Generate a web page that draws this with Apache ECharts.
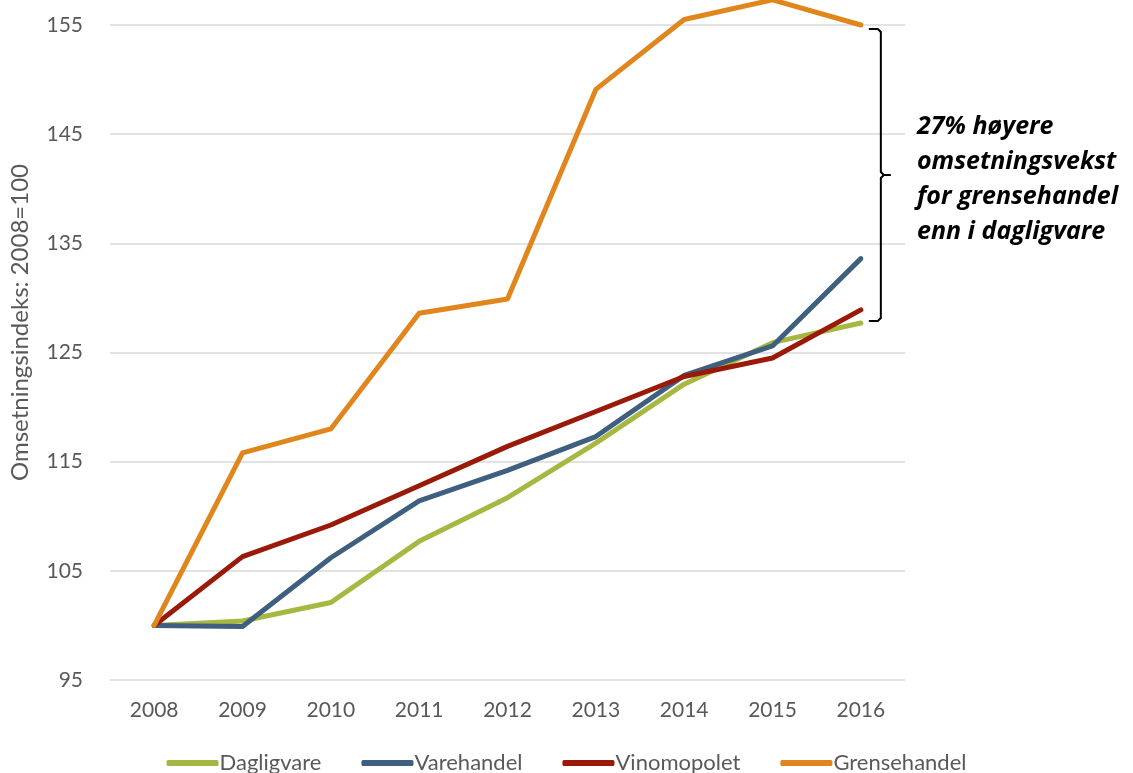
<!DOCTYPE html>
<html>
<head>
<meta charset="utf-8">
<script src="https://cdn.jsdelivr.net/npm/echarts@6/dist/echarts.min.js"></script>
<style>
  html, body { margin: 0; padding: 0; background: #fff; }
  #chart { width: 1133px; height: 773px; }
</style>
</head>
<body>
<div id="chart"></div>
<script>
// data
const years = ['2008', '2009', '2010', '2011', '2012', '2013', '2014', '2015', '2016'];
const dagligvare = [100, 100.4, 102.1, 107.7, 111.7, 116.7, 122.1, 125.9, 127.7];
const varehandel = [100, 99.9, 106.2, 111.4, 114.2, 117.3, 122.9, 125.6, 133.6];
const vinmonopolet = [100, 106.3, 109.2, 112.8, 116.4, 119.6, 122.8, 124.5, 128.9];
const grensehandel = [100, 115.8, 118.0, 128.6, 129.9, 149.1, 155.5, 157.3, 155.0];
const noteLines = ['27% høyere', 'omsetningsvekst', 'for grensehandel', 'enn i dagligvare'];

const font = 'Lato, "Open Sans", sans-serif';
const grey = '#595959';

const chart = echarts.init(document.getElementById('chart'));

function line(name, data, color) {
  return {
    name: name,
    type: 'line',
    data: data,
    symbol: 'none',
    clip: false,
    lineStyle: { width: 5, color: color, cap: 'round', join: 'round' },
    itemStyle: { color: color }
  };
}

const option = {
  backgroundColor: '#fff',
  animation: false,
  grid: { left: 109, right: 228, top: 25, bottom: 93 },
  xAxis: {
    type: 'category',
    data: years,
    boundaryGap: true,
    axisLine: { show: false },
    axisTick: { show: false },
    axisLabel: { color: grey, fontSize: 21, fontFamily: font, margin: 20 }
  },
  yAxis: {
    type: 'value',
    min: 95,
    max: 155,
    interval: 10,
    name: 'Omsetningsindeks: 2008=100',
    nameLocation: 'middle',
    nameGap: 78,
    nameTextStyle: { color: grey, fontSize: 24, fontFamily: font, padding: [0, 0, 0, 60] },
    axisLine: { show: false },
    axisTick: { show: false },
    axisLabel: { color: grey, fontSize: 21, fontFamily: font, margin: 27 },
    splitLine: { lineStyle: { color: '#d9d9d9', width: 1.5 } }
  },
  legend: {
    bottom: -6,
    left: 'center',
    icon: 'roundRect',
    itemWidth: 52,
    itemHeight: 6,
    itemGap: 40,
    textStyle: { color: grey, fontSize: 22, fontFamily: font, padding: [0, 0, 0, -4] }
  },
  series: [
    line('Dagligvare', dagligvare, '#a6b842'),
    line('Varehandel', varehandel, '#3e5f7f'),
    line('Vinomopolet', vinmonopolet, '#9a1a0a'),
    line('Grensehandel', grensehandel, '#e0861c')
  ]
};
chart.setOption(option);

// curly bracket between Grensehandel and Dagligvare at 2016
const last = years.length - 1;
const pTop = chart.convertToPixel({ gridIndex: 0 }, [last, grensehandel[last]]);
const pBot = chart.convertToPixel({ gridIndex: 0 }, [last, dagligvare[last]]);
const x0 = pTop[0] + 8, x1 = pTop[0] + 20;
const y0 = pTop[1] + 4, y1 = pBot[1] - 2;
const ym = (y0 + y1) / 2;
const bStyle = { stroke: '#000', lineWidth: 2, fill: null };

chart.setOption({
  graphic: [
    { type: 'polyline', shape: { points: [[x0, y0], [x1 - 3, y0], [x1, y0 + 3], [x1, ym - 3], [x1 + 3, ym]] }, style: bStyle },
    { type: 'polyline', shape: { points: [[x1 + 3, ym], [x1, ym + 3], [x1, y1 - 3], [x1 - 3, y1], [x0, y1]] }, style: bStyle },
    { type: 'line', shape: { x1: x1 + 3, y1: ym, x2: x1 + 10, y2: ym }, style: bStyle },
    {
      type: 'text',
      left: 917,
      top: ym - 66,
      style: {
        text: noteLines.join('\n'),
        fill: '#000',
        font: 'italic bold 25px "Open Sans", sans-serif',
        lineHeight: 35
      }
    }
  ]
});
</script>
</body>
</html>
